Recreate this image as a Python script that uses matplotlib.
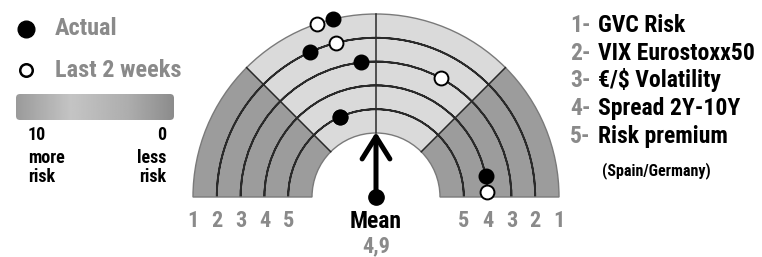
import numpy as np
import matplotlib
matplotlib.use("Agg")
import matplotlib.pyplot as plt
from matplotlib.patches import Wedge, FancyBboxPatch

# risk scale: 10 = more risk (left), 0 = less risk (right)
items = ["GVC Risk", "VIX Eurostoxx50", "€/$ Volatility", "Spread 2Y-10Y", "Risk premium"]
actual = [5.75, 6.35, 5.35, 0.6, 6.35]
last_2_weeks = [6.05, 5.8, 3.4, 0.15, 6.35]
mean_value = 4.9
ring_labels = ["1", "2", "3", "4", "5"]

DARK = "#9c9c9c"
LIGHT = "#dadada"
GREY_TXT = "#8a8a8a"
FONT = dict(family=["Roboto Condensed", "Liberation Sans"], fontweight="heavy")

cx, cy = 376, 60
r_in, r_out = 64, 183
radii = np.linspace(r_out, r_in, 6)[:5]  # item 1 on outer edge ... item 5 inside


def to_xy(value, r):
    ang = np.deg2rad(18.0 * np.asarray(value))
    return cx + r * np.cos(ang), cy + r * np.sin(ang)


fig = plt.figure(figsize=(7.62, 2.57), dpi=100)
ax = fig.add_axes([0, 0, 1, 1])
ax.set_xlim(0, 762)
ax.set_ylim(0, 257)
ax.axis("off")

# sectors
w = r_out - r_in
ax.add_patch(Wedge((cx, cy), r_out, 0, 45, width=w, fc=DARK, ec="none"))
ax.add_patch(Wedge((cx, cy), r_out, 135, 180, width=w, fc=DARK, ec="none"))
ax.add_patch(Wedge((cx, cy), r_out, 45, 135, width=w, fc=LIGHT, ec="none"))

# ring arcs
for r in radii[1:]:
    ax.add_patch(Wedge((cx, cy), r, 0, 180, width=0, fc="none", ec="#2a2a2a", lw=1.3))
ax.add_patch(Wedge((cx, cy), r_out, 0, 180, width=w, fc="none", ec="#7a7a7a", lw=1.0))

# sector boundaries
for a in (45, 90, 135):
    x0, y0 = to_xy(a / 18.0, r_in)
    x1, y1 = to_xy(a / 18.0, r_out)
    ax.plot([x0, x1], [y0, y1], color="#2a2a2a", lw=1.1)

# points
for i in range(len(items)):
    x, y = to_xy(last_2_weeks[i], radii[i])
    ax.plot(x, y, "o", ms=10, mfc="white", mec="black", mew=1.4, zorder=5)
for i in range(len(items)):
    x, y = to_xy(actual[i], radii[i])
    ax.plot(x, y, "o", ms=10.5, color="black", zorder=6)

# mean marker: arrow pointing to the middle of the gauge
ax.annotate("", xy=(cx, cy + r_in + 1), xytext=(cx, cy),
            arrowprops=dict(arrowstyle="->, head_length=1.6, head_width=1.0",
                            lw=3.6, color="black", shrinkA=0, shrinkB=0))
ax.plot(cx, cy, "o", ms=11, color="black", zorder=6)

ax.text(cx, 29, "Mean", ha="center", va="baseline", fontsize=17, color="black", **FONT)
ax.text(cx, 5, f"{mean_value:.1f}".replace(".", ","), ha="center", va="baseline",
        fontsize=16, color=GREY_TXT, **FONT)

# ring numbers
for lab, r in zip(ring_labels, radii):
    ax.text(cx - r, 30, lab, ha="center", va="baseline", fontsize=16, color=GREY_TXT, **FONT)
    ax.text(cx + r, 30, lab, ha="center", va="baseline", fontsize=16, color=GREY_TXT, **FONT)

# left legend
ax.plot(26, 228, "o", ms=12, color="black")
ax.plot(26, 187, "o", ms=9, mfc="white", mec="black", mew=1.8)
ax.text(55, 222, "Actual", ha="left", va="baseline", fontsize=17.5, color=GREY_TXT, **FONT)
ax.text(55, 180, "Last 2 weeks", ha="left", va="baseline", fontsize=17.5, color=GREY_TXT, **FONT)

grad = np.interp(np.linspace(0, 1, 200), [0, 0.35, 0.7, 1], [0.6, 0.77, 0.68, 0.54])
box = FancyBboxPatch((16, 137), 158, 26, boxstyle="round,pad=0,rounding_size=4",
                     fc="none", ec="none")
ax.add_patch(box)
im = ax.imshow(grad[None, :], cmap="gray", vmin=0, vmax=1, aspect="auto",
               extent=[14, 177, 135, 165], zorder=2)
im.set_clip_path(box)
ax.set_xlim(0, 762)
ax.set_ylim(0, 257)

ax.text(28, 117, "10", ha="left", va="baseline", fontsize=13, color="black", **FONT)
ax.text(28, 94, "more", ha="left", va="baseline", fontsize=13, color="black", **FONT)
ax.text(28, 75, "risk", ha="left", va="baseline", fontsize=13, color="black", **FONT)
ax.text(166, 117, "0", ha="right", va="baseline", fontsize=13, color="black", **FONT)
ax.text(166, 94, "less", ha="right", va="baseline", fontsize=13, color="black", **FONT)
ax.text(166, 75, "risk", ha="right", va="baseline", fontsize=13, color="black", **FONT)

# right legend
baselines = [225, 197, 170, 142, 114]
for i, (name, yb) in enumerate(zip(items, baselines)):
    ax.text(570, yb, f"{i + 1}-", ha="left", va="baseline", fontsize=17, color=GREY_TXT, **FONT)
    ax.text(598, yb, name, ha="left", va="baseline", fontsize=17, color="black", **FONT)
ax.text(602, 82, "(Spain/Germany)", ha="left", va="baseline", fontsize=11.5, color="black", **FONT)

fig.savefig("out.png", dpi=100)
plt.close(fig)
